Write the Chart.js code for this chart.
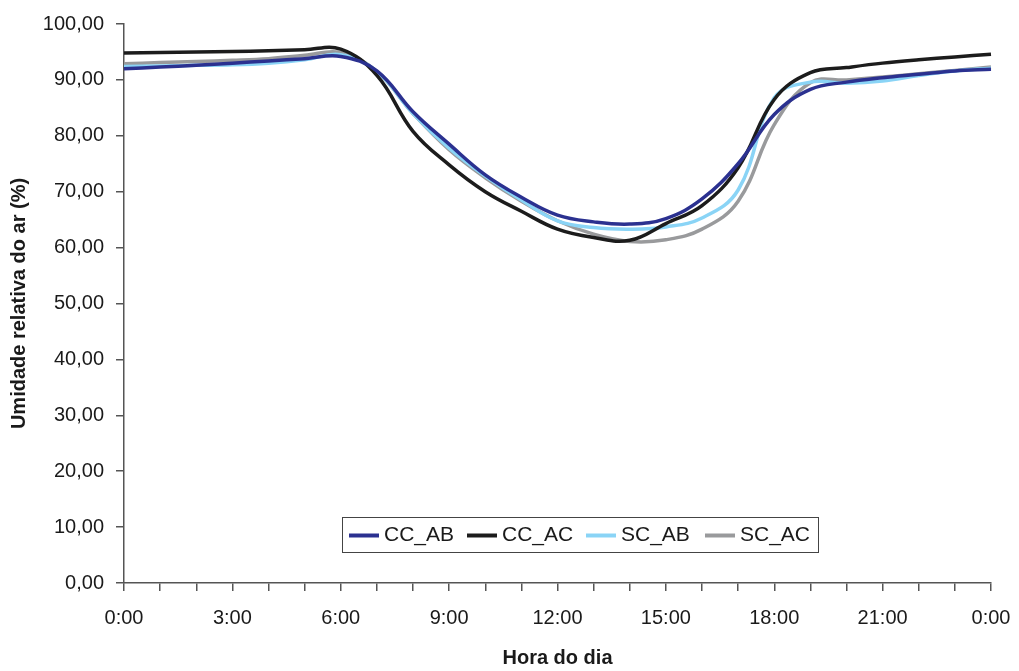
<!DOCTYPE html>
<html>
<head>
<meta charset="utf-8">
<script src="https://cdn.jsdelivr.net/npm/chart.js@4/dist/chart.umd.min.js"></script>
<style>
  html, body { margin: 0; padding: 0; background: #fff; }
  #wrap { width: 1019px; height: 671px; position: relative; }
</style>
</head>
<body>
<div id="wrap"><canvas id="canvas1"></canvas></div>
<script>
var horas = ["0:00","1:00","2:00","3:00","4:00","5:00","6:00","7:00","8:00","9:00","10:00","11:00",
             "12:00","13:00","14:00","15:00","16:00","17:00","18:00","19:00","20:00","21:00","22:00","23:00","0:00"];

var ccAB = [92.0, 92.3, 92.6, 93.0, 93.4, 93.8, 94.2, 91.6, 84.3, 78.5, 73.0, 69.0,
            65.8, 64.6, 64.2, 65.2, 68.7, 75.0, 83.8, 88.3, 89.6, 90.4, 91.0, 91.6, 91.9];
var ccAC = [94.8, 94.9, 95.0, 95.1, 95.2, 95.4, 95.5, 90.8, 80.8, 74.8, 70.0, 66.5,
            63.3, 61.8, 61.3, 64.3, 67.5, 74.3, 86.5, 91.3, 92.2, 93.0, 93.6, 94.1, 94.6];
var scAB = [92.4, 92.5, 92.6, 92.7, 93.0, 93.6, 94.5, 91.5, 84.0, 77.8, 72.8, 68.5,
            64.8, 63.6, 63.3, 63.7, 65.3, 70.3, 86.8, 89.6, 89.4, 89.8, 90.8, 91.6, 92.1];
var scAC = [92.9, 93.1, 93.3, 93.5, 93.8, 94.4, 94.9, 91.5, 84.0, 77.5, 72.5, 68.3,
            64.8, 62.4, 61.1, 61.4, 63.3, 68.3, 82.0, 89.5, 90.0, 90.5, 91.1, 91.7, 92.3];

var series = ["CC_AB", "CC_AC", "SC_AB", "SC_AC"];
var colores = ["#2b3190", "#1c1c1c", "#8ad4f6", "#999a9c"];

var fuente = "Arial, 'Liberation Sans', sans-serif";
var ejeColor = "#555555";

// legend drawn inside the plot, like the original
var leyenda = {
    id: "leyenda",
    afterDraw: function(chart) {
        var ctx = chart.ctx;
        var x0 = 342, y0 = 517, w = 476, h = 35;
        ctx.save();
        ctx.fillStyle = "#fff";
        ctx.fillRect(x0, y0, w, h);
        ctx.strokeStyle = "#444";
        ctx.lineWidth = 1;
        ctx.strokeRect(x0 + 0.5, y0 + 0.5, w, h);
        ctx.font = "21px " + fuente;
        ctx.textBaseline = "middle";
        var inicios = [349, 467, 586, 705];
        var cy = y0 + h / 2 + 1;
        chart.data.datasets.forEach(function(ds, i) {
            var x = inicios[i];
            ctx.strokeStyle = ds.borderColor;
            ctx.lineWidth = 4;
            ctx.beginPath();
            ctx.moveTo(x, cy);
            ctx.lineTo(x + 30, cy);
            ctx.stroke();
            ctx.fillStyle = "#1a1a1a";
            ctx.fillText(ds.label, x + 35, cy);
        });
        ctx.restore();
    }
};

var datos = [ccAB, ccAC, scAB, scAC];
var datasets = [];
for (var i = 0; i < series.length; i++) {
    datasets.push({
        label: series[i],
        data: datos[i],
        borderColor: colores[i],
        backgroundColor: colores[i],
        borderWidth: 3.5,
        pointRadius: 0,
        tension: 0.4,
        fill: false
    });
}

new Chart(document.getElementById("canvas1"), {
    type: "line",
    data: { labels: horas, datasets: datasets },
    plugins: [leyenda],
    options: {
        animation: false,
        responsive: true,
        maintainAspectRatio: false,
        events: [],
        layout: { padding: { top: 17, right: 28, left: 0, bottom: 0 } },
        plugins: { legend: { display: false }, tooltip: { enabled: false } },
        scales: {
            x: {
                type: "category",
                offset: false,
                afterFit: function(s) { s.height = 88; s.paddingRight = 0; s.paddingLeft = 0; },
                grid: { drawOnChartArea: false, drawTicks: true, tickLength: 8, color: ejeColor, lineWidth: 1.5 },
                border: { color: ejeColor, width: 1.5 },
                ticks: {
                    autoSkip: false,
                    maxRotation: 0,
                    padding: 15,
                    color: "#1a1a1a",
                    font: { family: fuente, size: 20 },
                    callback: function(v, idx) { return idx % 3 === 0 ? horas[idx] : ""; }
                },
                title: {
                    display: true,
                    text: "Hora do dia",
                    color: "#1a1a1a",
                    font: { family: fuente, size: 20, weight: "bold" },
                    padding: { top: 0, bottom: 1 }
                }
            },
            y: {
                min: 0,
                max: 100,
                afterFit: function(s) { s.width = 124; },
                grid: { drawOnChartArea: false, drawTicks: true, tickLength: 8, color: ejeColor, lineWidth: 1.5 },
                border: { color: ejeColor, width: 1.5 },
                ticks: {
                    stepSize: 10,
                    padding: 12,
                    color: "#1a1a1a",
                    font: { family: fuente, size: 20 },
                    callback: function(v) { return v.toFixed(2).replace(".", ","); }
                },
                title: {
                    display: true,
                    text: "Umidade relativa do ar (%)",
                    color: "#1a1a1a",
                    font: { family: fuente, size: 20, weight: "bold" },
                    padding: { top: 7, bottom: 0 }
                }
            }
        }
    }
});
</script>
</body>
</html>
